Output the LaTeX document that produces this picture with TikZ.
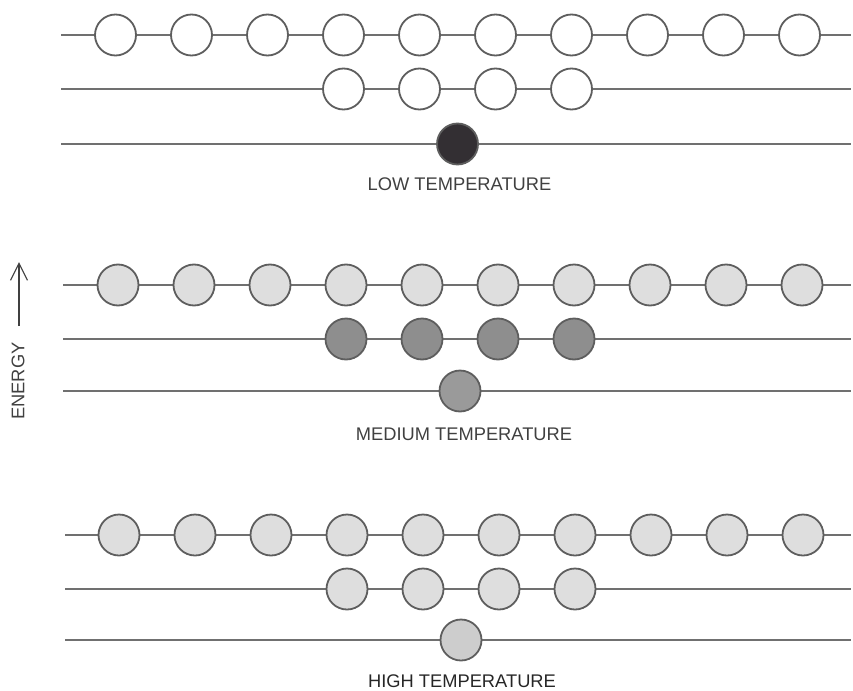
\documentclass[tikz,border=0pt]{standalone}
\usepackage{fontspec}
\setmainfont{Liberation Sans}
\usetikzlibrary{arrows.meta}
\definecolor{linegray}{HTML}{707070}
\definecolor{ringgray}{HTML}{5E5E5E}
\definecolor{pale}{HTML}{DEDEDE}
\definecolor{midshade}{HTML}{8E8E8E}
\definecolor{stipple}{HTML}{9A9A9A}
\definecolor{lightstipple}{HTML}{CDCDCD}
\definecolor{dark}{HTML}{332F33}
\definecolor{textgray}{HTML}{404040}
\begin{document}
\begin{tikzpicture}[x=1pt,y=-1pt,
  level/.style={draw=linegray, line width=1.4pt},
  state/.style={circle, draw=ringgray, line width=1.8pt, minimum size=41pt, inner sep=0pt},
  caption/.style={font=\fontsize{18.3}{20}\selectfont, text=textgray, anchor=base}
]
\useasboundingbox (0,0) rectangle (853,690);

% energy axis
\coordinate (eLow) at (19,326);
\coordinate (eHigh) at (19,262);
\draw[line width=1.2pt, draw=textgray, -{Straight Barb[length=17pt,width=17pt]}] (eLow) -- (eHigh);
\node[caption, rotate=90] (energy) at (24.3,381) {ENERGY};

% #1 panel name, #2 left x of levels, #3 x of first column,
% #4 y of upper level, #5 y of middle level, #6 y of lowest level,
% #7 upper fill, #8 middle fill, #9 lowest fill
\newcommand{\panel}[9]{%
  \coordinate (#1-uL) at (#2,#4); \coordinate (#1-uR) at (851,#4);
  \coordinate (#1-mL) at (#2,#5); \coordinate (#1-mR) at (851,#5);
  \coordinate (#1-lL) at (#2,#6); \coordinate (#1-lR) at (851,#6);
  \draw[level] (#1-uL) -- (#1-uR);
  \draw[level] (#1-mL) -- (#1-mR);
  \draw[level] (#1-lL) -- (#1-lR);
  \foreach \k in {0,...,9}
    \node[state, fill=#7] (#1-u\k) at ({#3+76*\k},#4) {};
  \foreach \k in {3,...,6}
    \node[state, fill=#8] (#1-m\k) at ({#3+76*\k},#5) {};
  \node[state, fill=#9] (#1-l) at ({#3+76*4.5},#6) {};
}

\panel{low}{61}{115.5}{35}{89}{144}{white}{white}{dark}
\panel{med}{63}{118}{285}{339}{391}{pale}{midshade}{stipple}
\panel{high}{65}{119}{535}{589}{640}{pale}{pale}{lightstipple}

\node[caption] (lowcap) at (459.5,190) {LOW TEMPERATURE};
\node[caption] (medcap) at (464,440) {MEDIUM TEMPERATURE};
\node[caption, text=black!85] (highcap) at (462,687) {HIGH TEMPERATURE};
\end{tikzpicture}
\end{document}
